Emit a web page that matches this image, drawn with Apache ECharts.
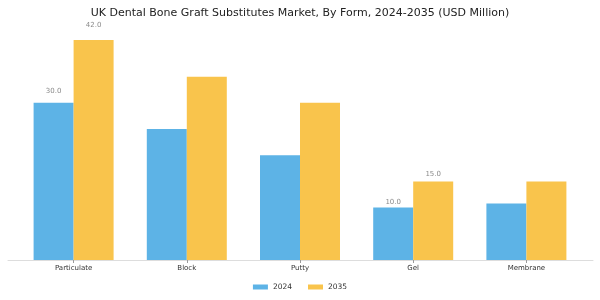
<!DOCTYPE html>
<html>
<head>
<meta charset="utf-8">
<script src="https://cdn.jsdelivr.net/npm/echarts@6/dist/echarts.min.js"></script>
<style>
  html, body { margin: 0; padding: 0; background: #fff; }
  #chart { width: 600px; height: 300px; }
</style>
</head>
<body>
<div id="chart"></div>
<script>
// Market size by product form, USD million
const categories = ['Particulate', 'Block', 'Putty', 'Gel', 'Membrane'];
const values2024 = [30.0, 25.0, 20.0, 10.0, 10.8];
const values2035 = [42.0, 35.0, 30.0, 15.0, 15.0];
const seriesNames = ['2024', '2035'];
// Forms whose bars carry a value label
const labelledForms = ['Particulate', 'Gel'];

const FONT = 'DejaVu Sans';
const COLORS = ['#5db3e6', '#f9c44c'];

// Label sits a little higher above taller bars
function labelGap(v) { return Math.max(1, 0.28 * v - 0.6); }

function buildData(values) {
  return values.map((v, i) => {
    const show = labelledForms.indexOf(categories[i]) >= 0;
    return {
      value: v,
      label: {
        show: show,
        position: 'top',
        distance: labelGap(v),
        formatter: (p) => p.value.toFixed(1),
        color: '#8a8a8a',
        fontSize: 7,
        fontFamily: FONT
      }
    };
  });
}

const chart = echarts.init(document.getElementById('chart'), null, { renderer: 'canvas' });

chart.setOption({
  animation: false,
  backgroundColor: '#ffffff',
  title: {
    text: 'UK Dental Bone Graft Substitutes Market, By Form, 2024-2035 (USD Million)',
    left: 'center',
    top: 3,
    textStyle: { fontFamily: FONT, fontSize: 11, fontWeight: 'normal', color: '#222222' }
  },
  legend: {
    data: seriesNames,
    bottom: 4,
    left: 'center',
    itemWidth: 15,
    itemHeight: 5,
    itemGap: 16,
    icon: 'rect',
    textStyle: { fontFamily: FONT, fontSize: 7.5, color: '#333333' }
  },
  grid: [
    { left: 17, right: 17, top: 29, bottom: 40 },
    // wider band that only carries the baseline rule
    { left: 8, right: 7, top: 29, bottom: 40 }
  ],
  xAxis: [
    {
      type: 'category',
      gridIndex: 0,
      data: categories,
      axisLine: { show: false },
      axisTick: { show: true, alignWithLabel: true, length: 3, lineStyle: { color: '#9a9a9a' } },
      axisLabel: { margin: 5, fontFamily: FONT, fontSize: 7, color: '#333333' }
    },
    {
      type: 'value',
      gridIndex: 1,
      min: 0,
      max: 1,
      axisLine: { show: true, lineStyle: { color: '#dddddd', width: 1 } },
      axisTick: { show: false },
      axisLabel: { show: false },
      splitLine: { show: false }
    }
  ],
  yAxis: [
    { type: 'value', gridIndex: 0, min: 0, max: 44.1, show: false },
    { type: 'value', gridIndex: 1, min: 0, max: 1, show: false }
  ],
  series: [
    {
      name: seriesNames[0],
      type: 'bar',
      xAxisIndex: 0,
      yAxisIndex: 0,
      data: buildData(values2024),
      barWidth: 40,
      barGap: '0%',
      itemStyle: { color: COLORS[0] }
    },
    {
      name: seriesNames[1],
      type: 'bar',
      xAxisIndex: 0,
      yAxisIndex: 0,
      data: buildData(values2035),
      barWidth: 40,
      barGap: '0%',
      itemStyle: { color: COLORS[1] }
    }
  ]
});
</script>
</body>
</html>
